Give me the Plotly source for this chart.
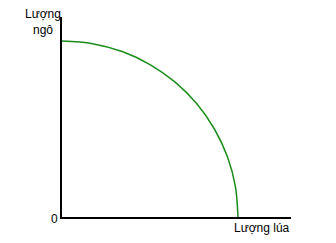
import plotly.graph_objects as go

# Points (data units: axis origin at 0, curve meets axes at 10)
rice = [0.0, 1.74, 3.42, 5.0, 6.43, 7.66, 8.66, 9.40, 9.85, 10.0]
corn = [10.0, 9.85, 9.40, 8.66, 7.66, 6.43, 5.0, 3.42, 1.74, 0.0]

x_label = "Lượng lúa"
y_label = "Lượng<br>ngô"
origin_label = "0"

W, H = 336, 243
L, R, T, B = 62, 291, 17, 217  # plot area in pixels
unit = 17.6  # pixels per data unit

def px(x):
    return (x - L) / (R - L)

def py(y):
    return (B - y) / (B - T)

fig = go.Figure()
fig.add_trace(go.Scatter(
    x=rice, y=corn, mode="lines", line_shape="spline",
    line=dict(color="#1a8c1a", width=1.5), hoverinfo="skip", showlegend=False,
))

font = dict(family="Arial, Liberation Sans, sans-serif", size=12, color="black")
fig.update_layout(
    width=W, height=H,
    margin=dict(l=L, r=W - R, t=T, b=H - B, pad=0),
    paper_bgcolor="white", plot_bgcolor="white",
    xaxis=dict(range=[0, (R - L) / unit], showline=True, linecolor="black", linewidth=2,
               showgrid=False, zeroline=False, showticklabels=False, ticks="", fixedrange=True),
    yaxis=dict(range=[0, (B - T) / unit], showline=True, linecolor="black", linewidth=2,
               showgrid=False, zeroline=False, showticklabels=False, ticks="", fixedrange=True),
    annotations=[
        dict(text=y_label, xref="paper", yref="paper", x=px(43), y=py(22.5), showarrow=False,
             xanchor="center", yanchor="middle", font=font, align="center"),
        dict(text=origin_label, xref="paper", yref="paper", x=px(54), y=py(219), showarrow=False,
             xanchor="center", yanchor="middle", font=font),
        dict(text=x_label, xref="paper", yref="paper", x=px(262), y=py(228), showarrow=False,
             xanchor="center", yanchor="middle", font=font),
    ],
)
fig.write_html("out.html")
